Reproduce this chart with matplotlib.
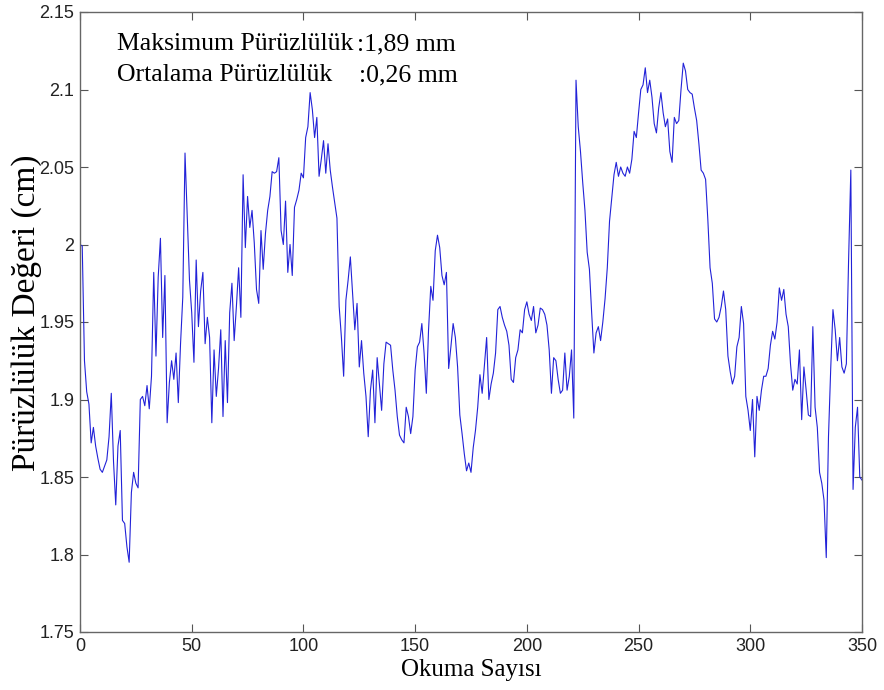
import numpy as np
import matplotlib
matplotlib.use("Agg")
import matplotlib.pyplot as plt

# readings 0..350, roughness in cm
okuma = np.arange(0, 351)
puruz = [
    2.000, 1.999, 1.925, 1.905, 1.897, 1.872, 1.882, 1.870, 1.862, 1.855,
    1.853, 1.857, 1.861, 1.876, 1.904, 1.860, 1.832, 1.870, 1.880, 1.822,
    1.820, 1.805, 1.795, 1.840, 1.853, 1.846, 1.843, 1.900, 1.902, 1.896,
    1.909, 1.894, 1.915, 1.982, 1.928, 1.979, 2.004, 1.940, 1.980, 1.885,
    1.911, 1.925, 1.913, 1.930, 1.898, 1.936, 1.966, 2.059, 2.018, 1.977,
    1.956, 1.924, 1.990, 1.947, 1.970, 1.982, 1.936, 1.953, 1.940, 1.885,
    1.932, 1.902, 1.920, 1.945, 1.889, 1.938, 1.898, 1.956, 1.975, 1.938,
    1.960, 1.985, 1.953, 2.045, 1.998, 2.031, 2.011, 2.022, 2.001, 1.971,
    1.962, 2.009, 1.984, 2.007, 2.022, 2.031, 2.047, 2.046, 2.047, 2.056,
    2.009, 2.000, 2.028, 1.982, 2.000, 1.980, 2.024, 2.029, 2.035, 2.046,
    2.043, 2.069, 2.076, 2.098, 2.087, 2.069, 2.082, 2.044, 2.055, 2.067,
    2.046, 2.065, 2.048, 2.037, 2.027, 2.017, 1.960, 1.940, 1.915, 1.964,
    1.977, 1.992, 1.969, 1.945, 1.962, 1.921, 1.938, 1.917, 1.902, 1.876,
    1.906, 1.919, 1.885, 1.927, 1.910, 1.893, 1.923, 1.937, 1.936, 1.935,
    1.919, 1.906, 1.889, 1.877, 1.874, 1.872, 1.895, 1.889, 1.878, 1.889,
    1.919, 1.934, 1.937, 1.949, 1.930, 1.904, 1.945, 1.973, 1.964, 1.996,
    2.006, 1.998, 1.980, 1.974, 1.982, 1.920, 1.934, 1.949, 1.940, 1.921,
    1.890, 1.878, 1.865, 1.854, 1.859, 1.853, 1.869, 1.880, 1.895, 1.916,
    1.904, 1.922, 1.940, 1.900, 1.910, 1.917, 1.930, 1.958, 1.960, 1.953,
    1.948, 1.944, 1.935, 1.913, 1.911, 1.927, 1.932, 1.945, 1.943, 1.958,
    1.963, 1.955, 1.951, 1.960, 1.943, 1.948, 1.959, 1.958, 1.955, 1.948,
    1.932, 1.904, 1.927, 1.925, 1.913, 1.904, 1.906, 1.930, 1.906, 1.915,
    1.932, 1.888, 2.106, 2.076, 2.060, 2.040, 2.022, 1.995, 1.984, 1.956,
    1.930, 1.943, 1.947, 1.938, 1.950, 1.965, 1.985, 2.015, 2.030, 2.045,
    2.053, 2.044, 2.050, 2.046, 2.044, 2.050, 2.046, 2.055, 2.073, 2.069,
    2.085, 2.100, 2.103, 2.114, 2.098, 2.106, 2.095, 2.078, 2.072, 2.088,
    2.098, 2.085, 2.076, 2.081, 2.060, 2.053, 2.082, 2.078, 2.080, 2.100,
    2.117, 2.112, 2.100, 2.098, 2.097, 2.088, 2.080, 2.065, 2.048, 2.046,
    2.042, 2.016, 1.985, 1.975, 1.952, 1.950, 1.953, 1.960, 1.970, 1.958,
    1.928, 1.918, 1.910, 1.915, 1.934, 1.940, 1.960, 1.949, 1.902, 1.893,
    1.880, 1.900, 1.863, 1.902, 1.893, 1.906, 1.915, 1.915, 1.920, 1.935,
    1.944, 1.939, 1.950, 1.972, 1.964, 1.971, 1.955, 1.947, 1.923, 1.906,
    1.913, 1.910, 1.932, 1.887, 1.921, 1.906, 1.890, 1.889, 1.947, 1.895,
    1.882, 1.853, 1.846, 1.835, 1.798, 1.876, 1.920, 1.958, 1.945, 1.925,
    1.940, 1.921, 1.917, 1.923, 1.990, 2.048, 1.842, 1.882, 1.895, 1.850,
    1.848,
]

x_ticks = [0, 50, 100, 150, 200, 250, 300, 350]
y_ticks = [1.75, 1.8, 1.85, 1.9, 1.95, 2.0, 2.05, 2.1, 2.15]
y_tick_labels = ["1.75", "1.8", "1.85", "1.9", "1.95", "2", "2.05", "2.1", "2.15"]

info_labels = ["Maksimum Pürüzlülük", "Ortalama Pürüzlülük"]
info_values = [":1,89 mm", ":0,26 mm"]

W, H = 884, 690
fig = plt.figure(figsize=(W / 100, H / 100), dpi=100)
fig.patch.set_facecolor("white")
ax = fig.add_axes([80 / W, 1 - 632 / H, (862 - 80) / W, (632 - 12) / H])

ax.plot(okuma, puruz, color="#2222d8", lw=0.8)

ax.set_xlim(0, 350)
ax.set_ylim(1.75, 2.15)
ax.set_xticks(x_ticks)
ax.set_yticks(y_ticks)
ax.set_yticklabels(y_tick_labels)
sans = ["Liberation Sans Narrow", "Liberation Sans"]
for lab in ax.get_xticklabels() + ax.get_yticklabels():
    lab.set_fontfamily(sans)
    lab.set_fontsize(13)
    lab.set_color("#222222")
ax.tick_params(direction="in", length=6, width=0.8, color="#555555",
               top=True, right=True, pad=4)
for sp in ax.spines.values():
    sp.set_color("#666666")
    sp.set_linewidth(1.0)

serif = "Liberation Serif"
ax.set_xlabel("Okuma Sayısı", family=serif, fontsize=18, labelpad=3)
ax.set_ylabel("Pürüzlülük Değeri (cm)", family=serif, fontsize=24)
ax.yaxis.set_label_coords(-0.048, 0.515)

# info text at top-left
for k, (lbl, val) in enumerate(zip(info_labels, info_values)):
    yb = 1 - (50 + 31 * k) / H
    fig.text(117 / W, yb, lbl, family=serif, fontsize=18.5, va="baseline")
    fig.text((357 + 2 * k) / W, yb, val, family=serif, fontsize=18.5, va="baseline")

fig.savefig("out.png", dpi=100)
